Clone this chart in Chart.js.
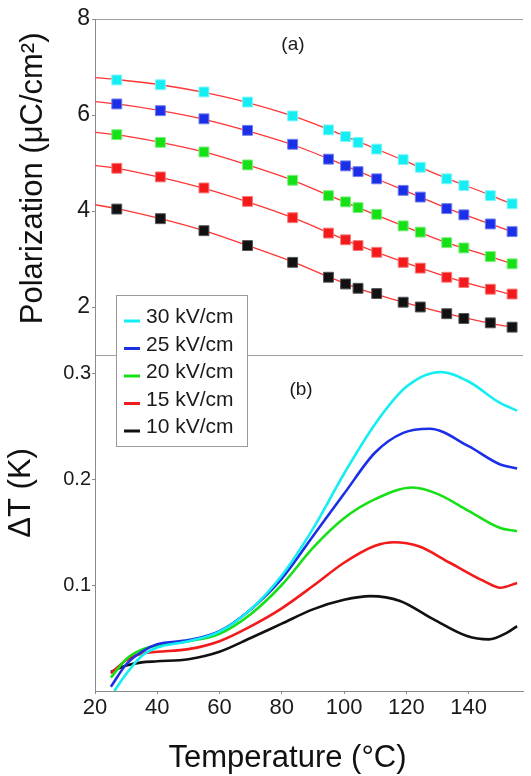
<!DOCTYPE html>
<html>
<head>
<meta charset="utf-8">
<script src="https://cdn.jsdelivr.net/npm/chart.js@4.4.1/dist/chart.umd.min.js"></script>
<style>
  html, body { margin: 0; padding: 0; background: #ffffff; }
  #wrap { width: 531px; height: 776px; position: relative; }
</style>
</head>
<body>
<div id="wrap"><canvas id="c" width="531" height="776"></canvas></div>
<script>
// ---------------- DATA ----------------
const fieldLabels = ['30 kV/cm', '25 kV/cm', '20 kV/cm', '15 kV/cm', '10 kV/cm'];

// Panel (a): measured polarization (squares)
const polTemps = [27, 41, 55, 69, 83.5, 95, 100.5, 104.5, 110.5, 119, 124.5, 133, 138.5, 147, 154];
const pol30 = [6.73, 6.63, 6.48, 6.27, 5.98, 5.69, 5.55, 5.43, 5.29, 5.07, 4.91, 4.67, 4.53, 4.32, 4.15];
const pol25 = [6.23, 6.09, 5.92, 5.68, 5.39, 5.08, 4.94, 4.82, 4.67, 4.43, 4.29, 4.05, 3.92, 3.73, 3.57];
const pol20 = [5.59, 5.43, 5.23, 4.96, 4.64, 4.32, 4.19, 4.07, 3.93, 3.69, 3.56, 3.34, 3.23, 3.05, 2.90];
const pol15 = [4.89, 4.71, 4.48, 4.20, 3.86, 3.54, 3.40, 3.28, 3.14, 2.93, 2.81, 2.62, 2.51, 2.37, 2.27];
const pol10 = [4.04, 3.84, 3.59, 3.28, 2.93, 2.62, 2.48, 2.39, 2.28, 2.10, 2.00, 1.86, 1.76, 1.67, 1.58];

// Panel (a): red fitted curves
const fitTemps = [20, 27, 41, 55, 69, 83.5, 95, 104.5, 119, 133, 147, 154];
const fit30 = [6.78, 6.74, 6.63, 6.47, 6.26, 5.98, 5.70, 5.45, 5.06, 4.68, 4.33, 4.14];
const fit25 = [6.28, 6.23, 6.09, 5.91, 5.67, 5.38, 5.09, 4.83, 4.44, 4.06, 3.73, 3.57];
const fit20 = [5.64, 5.59, 5.43, 5.23, 4.96, 4.64, 4.33, 4.07, 3.69, 3.34, 3.05, 2.90];
const fit15 = [4.95, 4.89, 4.70, 4.47, 4.19, 3.86, 3.55, 3.29, 2.94, 2.63, 2.37, 2.26];
const fit10 = [4.13, 4.05, 3.84, 3.59, 3.28, 2.94, 2.63, 2.39, 2.10, 1.86, 1.66, 1.58];

// Panel (b): electrocaloric temperature change
const dt30Temps = [26.2, 30, 35, 40, 50, 60, 70, 80, 90, 100, 110, 120, 131, 140, 150, 155.6];
const dt30 = [0.0, 0.016, 0.033, 0.041, 0.047, 0.056, 0.077, 0.109, 0.153, 0.205, 0.252, 0.287, 0.301, 0.292, 0.272, 0.2645];
const dt25Temps = [25.1, 30, 35, 40, 50, 60, 70, 80, 90, 100, 110, 119, 127.5, 140, 150, 155.6];
const dt25 = [0.004, 0.025, 0.037, 0.044, 0.048, 0.0565, 0.077, 0.106, 0.146, 0.186, 0.225, 0.2435, 0.2474, 0.231, 0.214, 0.210];
const dt20Temps = [25.1, 30, 35, 40, 50, 60, 70, 80, 90, 100, 110, 122, 130, 140, 150, 155.6];
const dt20 = [0.0126, 0.030, 0.039, 0.043, 0.047, 0.054, 0.0725, 0.100, 0.135, 0.163, 0.181, 0.192, 0.186, 0.170, 0.154, 0.1507];
const dt15Temps = [25.1, 30, 35, 40, 50, 60, 70, 80, 90, 100, 110, 116, 124, 134, 145, 150.2, 155.6];
const dt15 = [0.0167, 0.029, 0.0355, 0.037, 0.0395, 0.047, 0.061, 0.078, 0.099, 0.121, 0.137, 0.1403, 0.1365, 0.121, 0.1036, 0.0974, 0.102];
const dt10Temps = [25.1, 30, 35, 40, 50, 60, 70, 80, 90, 100, 108.5, 118, 128.8, 139.5, 146.5, 152.4, 155.6];
const dt10 = [0.018, 0.024, 0.027, 0.028, 0.030, 0.037, 0.050, 0.0635, 0.077, 0.086, 0.0895, 0.085, 0.0675, 0.0518, 0.0487, 0.055, 0.0612];

// Tick labels
const xTicks = [20, 40, 60, 80, 100, 120, 140];
const polTicks = [1, 2, 4, 6, 8];
const dtTicks = [0.1, 0.2, 0.3];

// ---------------- STYLE ----------------
const FONT = '"Liberation Sans", Arial, Helvetica, sans-serif';
const seriesColors = ['#14EEF2', '#1B2FE6', '#16E016', '#F21A1A', '#111111'];
const markerEdge = ['#7FF6F8', '#6E7DF0', '#7CEF7C', '#F77A7A', '#555555'];
const fitColor = '#FF3535';
const NB = '\u00A0';

const zip = (xs, ys) => xs.map((x, i) => ({ x: x, y: ys[i] }));

const polSeries = [pol30, pol25, pol20, pol15, pol10];
const fitSeries = [fit30, fit25, fit20, fit15, fit10];
const dtSeries = [[dt30Temps, dt30], [dt25Temps, dt25], [dt20Temps, dt20], [dt15Temps, dt15], [dt10Temps, dt10]];

const datasets = [];
polSeries.forEach((s, i) => datasets.push({
  label: fieldLabels[i] + ' P', yAxisID: 'yP', data: zip(polTemps, s),
  showLine: false, pointStyle: 'rect', pointRadius: 7, pointHoverRadius: 7,
  pointBackgroundColor: seriesColors[i], pointBorderColor: markerEdge[i], pointBorderWidth: 1
}));
fitSeries.forEach((s, i) => datasets.push({
  label: fieldLabels[i] + ' fit', yAxisID: 'yP', data: zip(fitTemps, s),
  borderColor: fitColor, borderWidth: 1.3, pointRadius: 0, cubicInterpolationMode: 'monotone', fill: false
}));
dtSeries.forEach((s, i) => datasets.push({
  label: fieldLabels[i], yAxisID: 'yT', data: zip(s[0], s[1]),
  borderColor: seriesColors[i], borderWidth: 2.6, pointRadius: 0, cubicInterpolationMode: 'monotone', fill: false
}));

const overlayPlugin = {
  id: 'overlay',
  afterDraw(chart, args, opts) {
    const { ctx, chartArea, scales } = chart;
    ctx.save();
    ctx.font = opts.tagFont;
    ctx.fillStyle = '#1a1a1a';
    ctx.textAlign = 'center';
    ctx.textBaseline = 'middle';
    opts.tags.forEach(t => {
      ctx.fillText(t.text, scales.x.getPixelForValue(t.x), scales[t.axis].getPixelForValue(t.y));
    });
    const b = opts.box;
    const bx = Math.round(chartArea.left + b.dx), by = Math.round(chartArea.top + b.dy);
    ctx.fillStyle = '#ffffff';
    ctx.fillRect(bx, by, b.w, b.h);
    ctx.strokeStyle = '#9a9a9a';
    ctx.lineWidth = 1;
    ctx.strokeRect(bx + 0.5, by + 0.5, b.w, b.h);
    ctx.font = opts.legendFont;
    ctx.textAlign = 'left';
    ctx.textBaseline = 'alphabetic';
    fieldLabels.forEach((lab, i) => {
      const y = by + b.firstRow + i * b.rowGap;
      ctx.strokeStyle = seriesColors[i];
      ctx.lineWidth = 3;
      ctx.beginPath();
      ctx.moveTo(bx + b.sampleX0, y);
      ctx.lineTo(bx + b.sampleX1, y);
      ctx.stroke();
      ctx.fillStyle = '#1a1a1a';
      ctx.fillText(lab, bx + b.textX, y + 2);
    });
    ctx.restore();
  }
};

Chart.defaults.font.family = FONT;
Chart.defaults.color = '#1a1a1a';

new Chart(document.getElementById('c'), {
  type: 'line',
  data: { datasets: datasets },
  options: {
    responsive: false,
    animation: false,
    devicePixelRatio: 1,
    layout: { padding: { top: 19, right: 0, bottom: 0, left: 0 } },
    plugins: {
      legend: { display: false },
      tooltip: { enabled: false },
      overlay: {
        tagFont: '19px ' + FONT,
        legendFont: '21px ' + FONT,
        tags: [
          { text: '(a)', x: 83.6, y: 7.46, axis: 'yP' },
          { text: '(b)', x: 86.2, y: 0.284, axis: 'yT' }
        ],
        box: { dx: 21, dy: 276, w: 131, h: 151, firstRow: 26, rowGap: 27.5, sampleX0: 8, sampleX1: 24, textX: 30 }
      }
    },
    scales: {
      x: {
        type: 'linear', min: 20, max: 157.5,
        afterBuildTicks: s => { s.ticks = xTicks.map(v => ({ value: v })); },
        ticks: { color: '#1a1a1a', font: { size: 22 }, padding: 1, maxRotation: 0, autoSkip: false },
        grid: { drawOnChartArea: false, tickLength: 3, tickColor: '#8a8a8a', color: '#8a8a8a' },
        border: { color: '#8a8a8a', width: 1 },
        title: { display: true, text: 'Temperature (\u00B0C)' + NB.repeat(5), color: '#111', font: { size: 31, lineHeight: 1 }, padding: { top: 20.6, bottom: 2 } }
      },
      yT: {
        type: 'linear', position: 'left', stack: 'panels', stackWeight: 1, min: 0, max: 0.317,
        afterBuildTicks: s => { s.ticks = dtTicks.map(v => ({ value: v })); },
        afterFit: s => { s.width = 95; },
        ticks: { color: '#1a1a1a', font: { size: 20 }, padding: 1, callback: v => v.toFixed(1) },
        grid: { color: 'rgba(0,0,0,0)', tickColor: '#8a8a8a', tickLength: 3 },
        border: { color: '#8a8a8a', width: 1 },
        title: { display: true, text: NB.repeat(7) + '\u0394T (K)', color: '#111', font: { size: 31, lineHeight: 1 }, padding: { top: 6, bottom: 0 } }
      },
      yP: {
        type: 'linear', position: 'left', stack: 'panels', stackWeight: 1, min: 1, max: 8,
        afterBuildTicks: s => { s.ticks = polTicks.map(v => ({ value: v })); },
        afterFit: s => { s.width = 95; },
        ticks: { color: '#1a1a1a', font: { size: 23 }, padding: 2, callback: v => (v === 1 ? '' : v) },
        grid: {
          color: c => (c.tick && (c.tick.value === 1 || c.tick.value === 8)) ? '#a0a0a0' : 'rgba(0,0,0,0)',
          tickColor: c => (c.tick && c.tick.value === 1) ? 'rgba(0,0,0,0)' : '#8a8a8a',
          tickLength: 3
        },
        border: { color: '#8a8a8a', width: 1 },
        title: { display: true, text: NB.repeat(2) + 'Polarization (\u03BCC/cm\u00B2)', color: '#111', font: { size: 31, lineHeight: 1 }, padding: { top: 18, bottom: 0 } }
      }
    }
  },
  plugins: [overlayPlugin]
});
</script>
</body>
</html>
